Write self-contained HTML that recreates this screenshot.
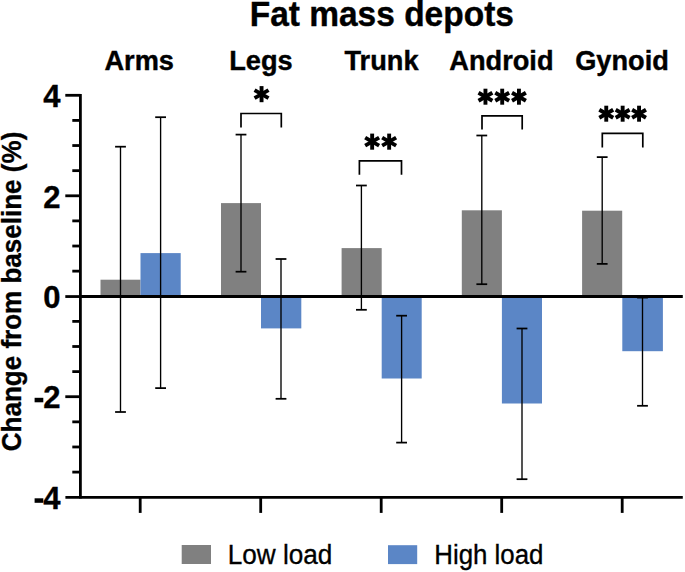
<!DOCTYPE html>
<html><head><meta charset="utf-8"><title>Fat mass depots</title>
<style>
html,body{margin:0;padding:0;background:#fff;}
body{width:685px;height:572px;overflow:hidden;font-family:"Liberation Sans",sans-serif;}
svg{display:block;}
</style></head>
<body>
<svg width="685" height="572" viewBox="0 0 685 572">
<rect width="685" height="572" fill="#fff"/>
<rect x="100.5" y="279.7" width="40.00" height="16.85" fill="#808080"/>
<rect x="140.5" y="253.1" width="40.20" height="43.45" fill="#5b86c6"/>
<rect x="221.0" y="203.1" width="40.00" height="93.45" fill="#808080"/>
<rect x="261.0" y="296.55" width="40.30" height="31.85" fill="#5b86c6"/>
<rect x="341.6" y="248.1" width="40.10" height="48.45" fill="#808080"/>
<rect x="381.7" y="296.55" width="40.00" height="81.95" fill="#5b86c6"/>
<rect x="461.8" y="210.3" width="40.10" height="86.25" fill="#808080"/>
<rect x="501.9" y="296.55" width="40.10" height="106.95" fill="#5b86c6"/>
<rect x="582.1" y="210.7" width="40.10" height="85.85" fill="#808080"/>
<rect x="622.3" y="296.55" width="40.60" height="54.65" fill="#5b86c6"/>
<g stroke="#000" stroke-width="1.35" fill="none">
<line x1="120.5" y1="146.7" x2="120.5" y2="412.0"/>
<line x1="115.1" y1="146.7" x2="125.9" y2="146.7" stroke-width="1.75"/>
<line x1="115.1" y1="412.0" x2="125.9" y2="412.0" stroke-width="1.75"/>
<line x1="160.6" y1="117.2" x2="160.6" y2="388.1"/>
<line x1="155.2" y1="117.2" x2="166.0" y2="117.2" stroke-width="1.75"/>
<line x1="155.2" y1="388.1" x2="166.0" y2="388.1" stroke-width="1.75"/>
<line x1="241.0" y1="134.6" x2="241.0" y2="271.7"/>
<line x1="235.6" y1="134.6" x2="246.4" y2="134.6" stroke-width="1.75"/>
<line x1="235.6" y1="271.7" x2="246.4" y2="271.7" stroke-width="1.75"/>
<line x1="281.0" y1="259.0" x2="281.0" y2="398.8"/>
<line x1="275.6" y1="259.0" x2="286.4" y2="259.0" stroke-width="1.75"/>
<line x1="275.6" y1="398.8" x2="286.4" y2="398.8" stroke-width="1.75"/>
<line x1="361.4" y1="185.5" x2="361.4" y2="309.8"/>
<line x1="356.0" y1="185.5" x2="366.79999999999995" y2="185.5" stroke-width="1.75"/>
<line x1="356.0" y1="309.8" x2="366.79999999999995" y2="309.8" stroke-width="1.75"/>
<line x1="401.6" y1="315.7" x2="401.6" y2="442.6"/>
<line x1="396.20000000000005" y1="315.7" x2="407.0" y2="315.7" stroke-width="1.75"/>
<line x1="396.20000000000005" y1="442.6" x2="407.0" y2="442.6" stroke-width="1.75"/>
<line x1="481.8" y1="135.5" x2="481.8" y2="284.2"/>
<line x1="476.40000000000003" y1="135.5" x2="487.2" y2="135.5" stroke-width="1.75"/>
<line x1="476.40000000000003" y1="284.2" x2="487.2" y2="284.2" stroke-width="1.75"/>
<line x1="522.0" y1="328.5" x2="522.0" y2="479.2"/>
<line x1="516.6" y1="328.5" x2="527.4" y2="328.5" stroke-width="1.75"/>
<line x1="516.6" y1="479.2" x2="527.4" y2="479.2" stroke-width="1.75"/>
<line x1="602.2" y1="157.1" x2="602.2" y2="263.9"/>
<line x1="596.8000000000001" y1="157.1" x2="607.6" y2="157.1" stroke-width="1.75"/>
<line x1="596.8000000000001" y1="263.9" x2="607.6" y2="263.9" stroke-width="1.75"/>
<line x1="642.5" y1="297.6" x2="642.5" y2="405.8"/>
<line x1="637.1" y1="297.6" x2="647.9" y2="297.6" stroke-width="1.75"/>
<line x1="637.1" y1="405.8" x2="647.9" y2="405.8" stroke-width="1.75"/>
</g>
<g stroke="#000" stroke-width="2.8" fill="none">
<line x1="80.4" y1="94" x2="80.4" y2="498.6"/>
<line x1="65.4" y1="497.4" x2="682.8" y2="497.4"/>
<line x1="80.4" y1="296.55" x2="682.8" y2="296.55" stroke-width="2.95"/>
<line x1="65.3" y1="95.3" x2="80.4" y2="95.3"/>
<line x1="65.3" y1="195.8" x2="80.4" y2="195.8"/>
<line x1="65.3" y1="396.7" x2="80.4" y2="396.7"/>
<line x1="65.3" y1="296.55" x2="80.4" y2="296.55"/>
<line x1="72.3" y1="120.42" x2="80.4" y2="120.42"/>
<line x1="72.3" y1="145.54" x2="80.4" y2="145.54"/>
<line x1="72.3" y1="170.66" x2="80.4" y2="170.66"/>
<line x1="72.3" y1="220.9" x2="80.4" y2="220.9"/>
<line x1="72.3" y1="246.01999999999998" x2="80.4" y2="246.01999999999998"/>
<line x1="72.3" y1="271.14" x2="80.4" y2="271.14"/>
<line x1="72.3" y1="321.38" x2="80.4" y2="321.38"/>
<line x1="72.3" y1="346.5" x2="80.4" y2="346.5"/>
<line x1="72.3" y1="371.62" x2="80.4" y2="371.62"/>
<line x1="72.3" y1="421.86" x2="80.4" y2="421.86"/>
<line x1="72.3" y1="446.98" x2="80.4" y2="446.98"/>
<line x1="72.3" y1="472.1" x2="80.4" y2="472.1"/>
<line x1="140.2" y1="497" x2="140.2" y2="512.9"/>
<line x1="260.7" y1="497" x2="260.7" y2="512.9"/>
<line x1="381.2" y1="497" x2="381.2" y2="512.9"/>
<line x1="501.7" y1="497" x2="501.7" y2="512.9"/>
<line x1="622.2" y1="497" x2="622.2" y2="512.9"/>
</g>
<g stroke="#000" stroke-width="1.7" fill="none" stroke-linejoin="miter">
<polyline points="241.0,127.4 241.0,113.5 281.3,113.5 281.3,127.4"/>
<polyline points="359.4,174.8 359.4,160.9 401.5,160.9 401.5,174.8"/>
<polyline points="482.0,129.6 482.0,115.9 522.2,115.9 522.2,129.6"/>
<polyline points="602.3,147.6 602.3,133.4 642.8,133.4 642.8,147.6"/>
</g>
<g stroke="#000" stroke-width="3.9" stroke-linecap="butt">
<line x1="261.55" y1="102.20" x2="261.55" y2="86.10"/><line x1="254.58" y1="98.18" x2="268.52" y2="90.12"/><line x1="254.58" y1="90.12" x2="268.52" y2="98.18"/>
<line x1="372.15" y1="149.70" x2="372.15" y2="133.60"/><line x1="365.18" y1="145.67" x2="379.12" y2="137.62"/><line x1="365.18" y1="137.62" x2="379.12" y2="145.67"/>
<line x1="389.15" y1="149.70" x2="389.15" y2="133.60"/><line x1="382.18" y1="145.67" x2="396.12" y2="137.62"/><line x1="382.18" y1="137.62" x2="396.12" y2="145.67"/>
<line x1="485.45" y1="104.70" x2="485.45" y2="88.70"/><line x1="478.52" y1="100.70" x2="492.38" y2="92.70"/><line x1="478.52" y1="92.70" x2="492.38" y2="100.70"/>
<line x1="502.20" y1="104.70" x2="502.20" y2="88.70"/><line x1="495.27" y1="100.70" x2="509.13" y2="92.70"/><line x1="495.27" y1="92.70" x2="509.13" y2="100.70"/>
<line x1="518.95" y1="104.70" x2="518.95" y2="88.70"/><line x1="512.02" y1="100.70" x2="525.88" y2="92.70"/><line x1="512.02" y1="92.70" x2="525.88" y2="100.70"/>
<line x1="606.25" y1="121.70" x2="606.25" y2="105.70"/><line x1="599.32" y1="117.70" x2="613.18" y2="109.70"/><line x1="599.32" y1="109.70" x2="613.18" y2="117.70"/>
<line x1="622.65" y1="121.70" x2="622.65" y2="105.70"/><line x1="615.72" y1="117.70" x2="629.58" y2="109.70"/><line x1="615.72" y1="109.70" x2="629.58" y2="117.70"/>
<line x1="639.05" y1="121.70" x2="639.05" y2="105.70"/><line x1="632.12" y1="117.70" x2="645.98" y2="109.70"/><line x1="632.12" y1="109.70" x2="645.98" y2="117.70"/>
</g>
<g font-family="Liberation Sans, sans-serif" font-weight="bold" fill="#000">
<text transform="translate(381.8,26.1) scale(0.96,1)" font-size="34.9" text-anchor="middle" stroke="#000" stroke-width="0.4">Fat mass depots</text>
<text transform="translate(139.2,69.8) scale(1.0,1)" font-size="27.2" text-anchor="middle" stroke="#000" stroke-width="0.4">Arms</text>
<text transform="translate(261,69.8) scale(1.0,1)" font-size="27.2" text-anchor="middle" stroke="#000" stroke-width="0.4">Legs</text>
<text transform="translate(381.5,69.8) scale(1.0,1)" font-size="27.2" text-anchor="middle" stroke="#000" stroke-width="0.4">Trunk</text>
<text transform="translate(501.4,69.8) scale(1.0,1)" font-size="27.2" text-anchor="middle" stroke="#000" stroke-width="0.4">Android</text>
<text transform="translate(622,69.8) scale(1.0,1)" font-size="27.2" text-anchor="middle" stroke="#000" stroke-width="0.4">Gynoid</text>
<text x="60.5" y="107.0" font-size="31" text-anchor="end" stroke="#000" stroke-width="0.35">4</text>
<text x="60.5" y="207.5" font-size="31" text-anchor="end" stroke="#000" stroke-width="0.35">2</text>
<text x="60.5" y="308.0" font-size="31" text-anchor="end" stroke="#000" stroke-width="0.35">0</text>
<text x="60.5" y="408.4" font-size="31" text-anchor="end" stroke="#000" stroke-width="0.35">2</text>
<rect x="34.6" y="397.8" width="8.7" height="4.5"/>
<text x="60.5" y="508.9" font-size="31" text-anchor="end" stroke="#000" stroke-width="0.35">4</text>
<rect x="34.6" y="498.3" width="8.7" height="4.5"/>
<text transform="translate(21,291.5) rotate(-90) scale(0.95,1)" font-size="27.4" text-anchor="middle" stroke="#000" stroke-width="0.35">Change from baseline (%)</text>
</g>
<rect x="181.7" y="545" width="29.3" height="19" fill="#808080"/>
<rect x="388" y="545.2" width="29.2" height="18.9" fill="#5b86c6"/>
<g font-family="Liberation Sans, sans-serif" font-size="27.8" fill="#000" stroke="#000" stroke-width="0.35">
<text transform="translate(227.7,564.3) scale(0.94,1)">Low load</text>
<text transform="translate(434.3,564.3) scale(0.93,1)">High load</text>
</g>
</svg>
</body></html>
